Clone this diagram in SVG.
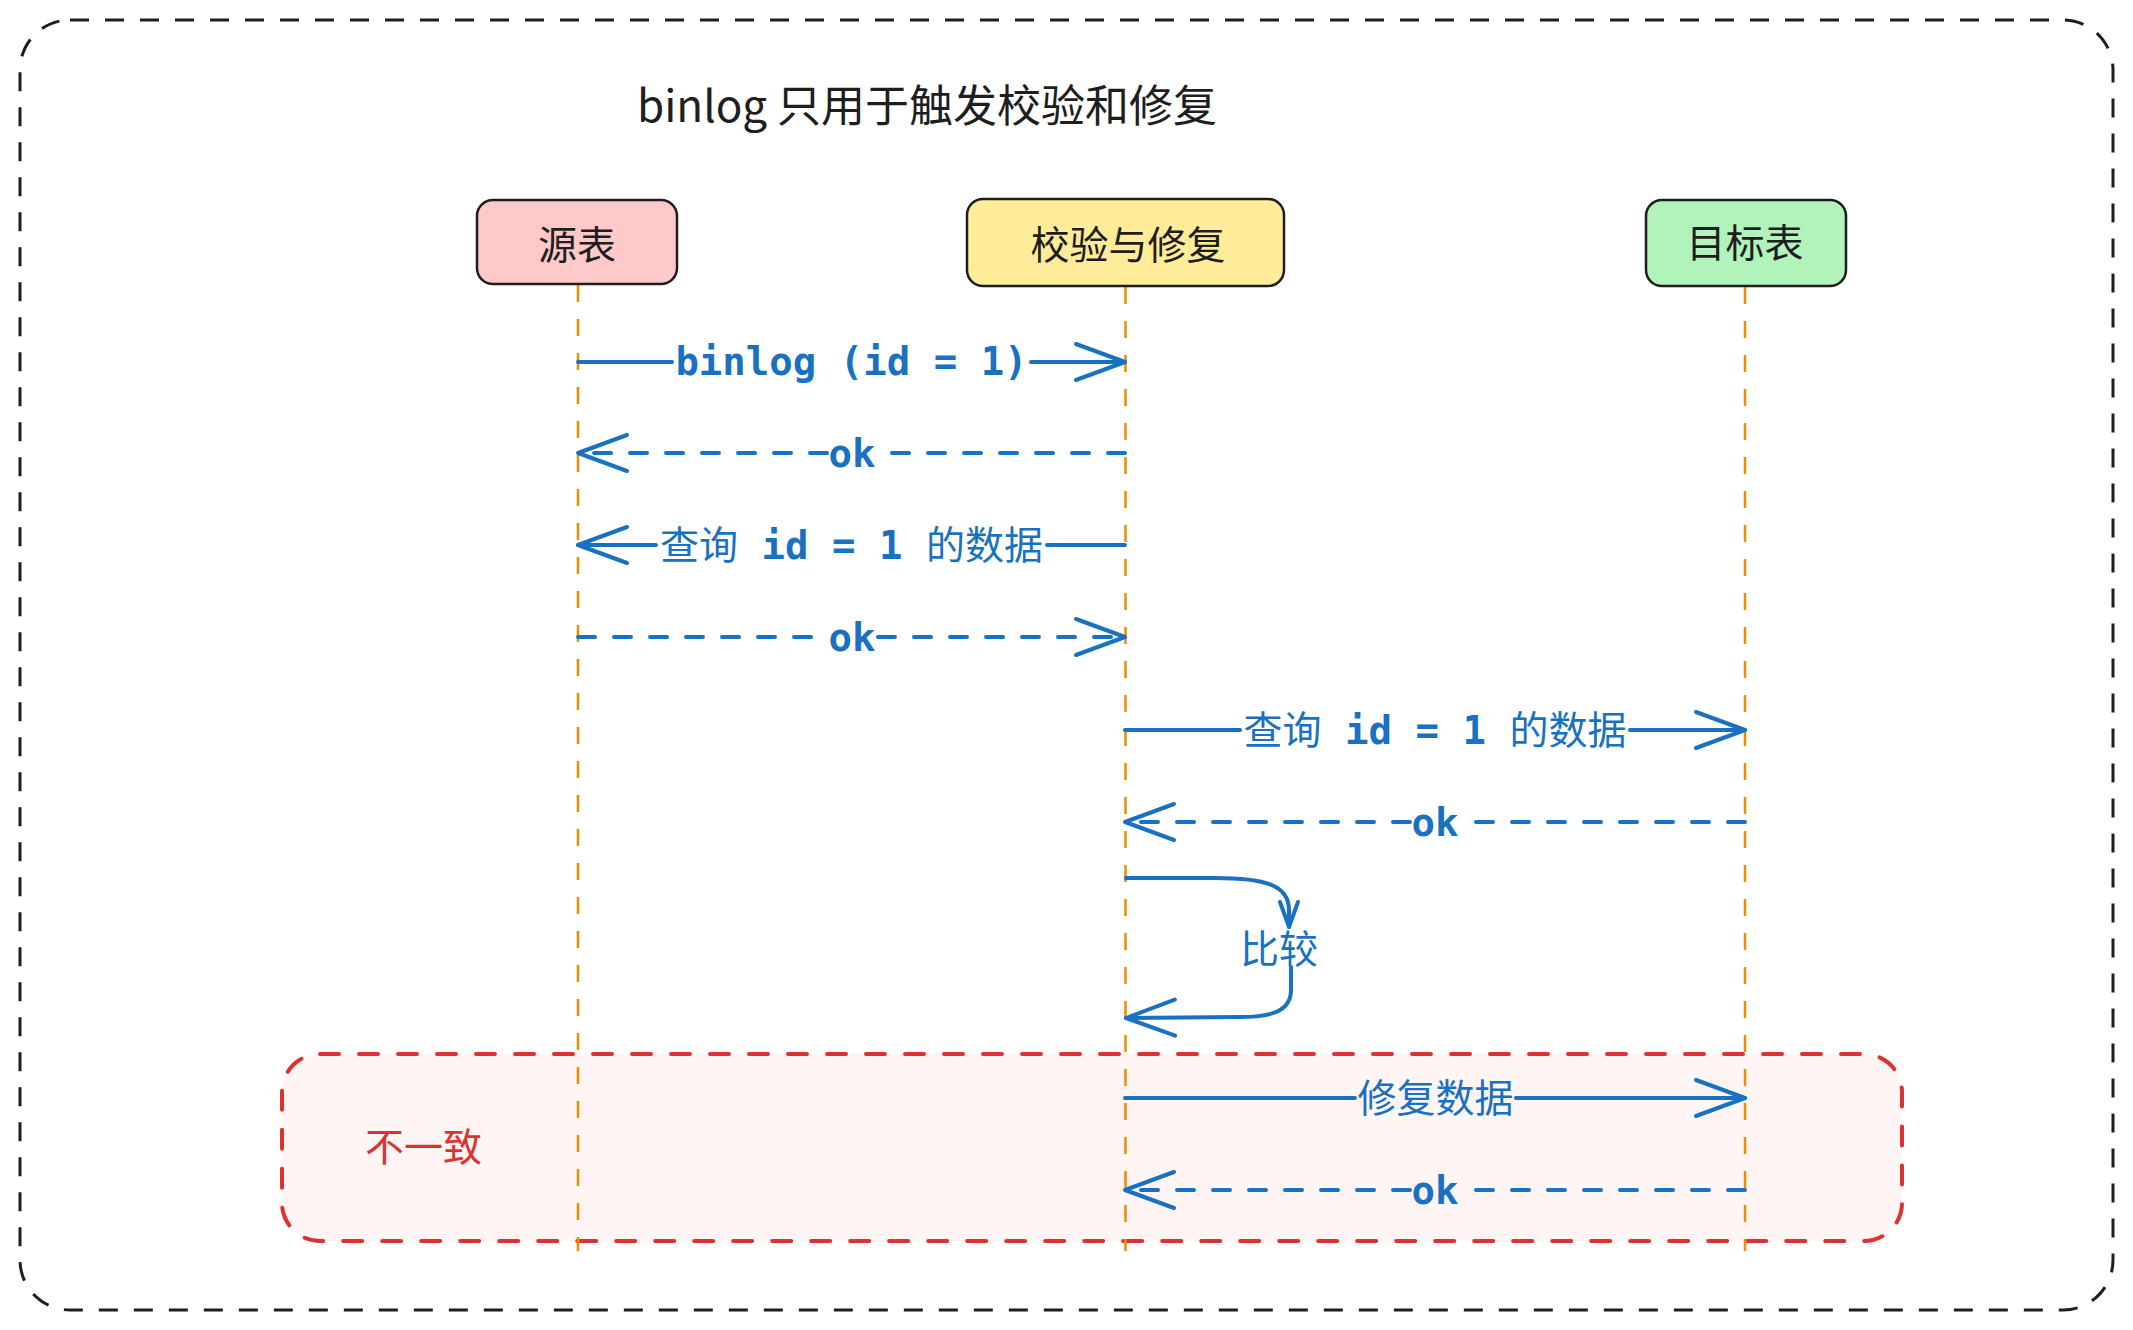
<svg xmlns="http://www.w3.org/2000/svg" width="2133" height="1330" viewBox="0 0 2133 1330">
<style>
.frame{fill:none;stroke:#1e1e1e;stroke-width:3;stroke-dasharray:19 16}
.box{stroke:#1e1e1e;stroke-width:2.5}
.ntxt{font-family:"Noto Sans CJK SC","Noto Sans",sans-serif;font-size:39px;fill:#1e1e1e;text-anchor:middle}
.life{fill:none;stroke:#f08c00;stroke-width:2.5;stroke-dasharray:17 17}
.ar{fill:none;stroke:#1971c2;stroke-width:4;stroke-linecap:round;stroke-linejoin:round}
.dash{stroke-dasharray:17 19}
.lbl{font-family:"DejaVu Sans Mono","Noto Sans CJK SC",monospace;font-size:39px;fill:#1971c2;text-anchor:middle}
.m{font-weight:bold}
.cjk{font-family:"Noto Sans CJK SC","Noto Sans",sans-serif;font-size:39px;fill:#1971c2;text-anchor:middle}
</style>
<defs>
<marker id="ah" viewBox="-54 -24 60 48" markerWidth="60" markerHeight="48" refX="0" refY="0" orient="auto" markerUnits="userSpaceOnUse">
<path d="M-49 -18 L0 0 L-49 18" fill="none" stroke="#1971c2" stroke-width="4" stroke-linecap="round" stroke-linejoin="round"/>
</marker>
<marker id="ahs" viewBox="-30 -14 36 28" markerWidth="36" markerHeight="28" refX="0" refY="0" orient="auto" markerUnits="userSpaceOnUse">
<path d="M-25 -9 L0 0 L-25 9" fill="none" stroke="#1971c2" stroke-width="4" stroke-linecap="round" stroke-linejoin="round"/>
</marker>
</defs>
<rect width="2133" height="1330" fill="#ffffff"/>
<g id="frame">
<rect class="frame" x="20" y="20" width="2093" height="1290" rx="50"/>
<text x="637" y="122" font-family="Noto Sans CJK SC,Noto Sans,sans-serif" font-size="44" fill="#1e1e1e">binlog 只用于触发校验和修复</text>
</g>
<g id="inconsistent">
<rect x="282" y="1054" width="1620" height="187" rx="38" fill="#fff5f5" stroke="#e03131" stroke-width="4" stroke-dasharray="19 20" stroke-linecap="round"/>
<text x="365" y="1161" font-family="Noto Sans CJK SC,Noto Sans,sans-serif" font-size="39" fill="#e03131">不一致</text>
</g>
<g id="lifelines">
<line class="life" x1="578" y1="285" x2="578" y2="1251"/>
<line class="life" x1="1125.5" y1="287" x2="1125.5" y2="1251"/>
<line class="life" x1="1745" y1="287" x2="1745" y2="1251"/>
</g>
<g id="node-source">
<rect class="box" x="477" y="200" width="200" height="84" rx="16" fill="#ffc9c9"/>
<text class="ntxt" x="577" y="259">源表</text>
</g>
<g id="node-verify">
<rect class="box" x="967" y="199" width="317" height="87" rx="16" fill="#ffec99"/>
<text class="ntxt" x="1128" y="259">校验与修复</text>
</g>
<g id="node-target">
<rect class="box" x="1646" y="200" width="200" height="86" rx="16" fill="#b2f2bb"/>
<text class="ntxt" x="1745" y="257">目标表</text>
</g>
<g id="connectors">
<path class="ar" d="M578 362 H672"/>
<path class="ar" d="M1031 362 H1125" marker-end="url(#ah)"/>
<text class="lbl" x="851.5" y="375"><tspan class="m">binlog (id = 1)</tspan></text>

<path class="ar dash" d="M1125 453 H878"/>
<path class="ar dash" d="M827 453 H578" marker-end="url(#ah)"/>
<text class="lbl m" x="852" y="467">ok</text>

<path class="ar" d="M1125 545 H1047"/>
<path class="ar" d="M656 545 H578" marker-end="url(#ah)"/>
<text class="lbl" x="851.5" y="559">查询<tspan class="m"> id = 1 </tspan>的数据</text>

<path class="ar dash" d="M578 637 H827"/>
<path class="ar dash" d="M878 637 H1125" marker-end="url(#ah)"/>
<text class="lbl m" x="852" y="651">ok</text>

<path class="ar" d="M1125 730 H1240"/>
<path class="ar" d="M1630 730 H1745" marker-end="url(#ah)"/>
<text class="lbl" x="1435" y="744">查询<tspan class="m"> id = 1 </tspan>的数据</text>

<path class="ar dash" d="M1745 822 H1460"/>
<path class="ar dash" d="M1410 822 H1125" marker-end="url(#ah)"/>
<text class="lbl m" x="1435" y="836">ok</text>

<path class="ar" d="M1126 878 L1215 878 C1265 878 1289 885 1289 910 L1289 927" marker-end="url(#ahs)"/>
<text class="cjk" x="1279" y="963">比较</text>
<path class="ar" d="M1291 967 L1291 990 C1291 1012 1270 1017 1240 1017 L1126 1018" marker-end="url(#ah)"/>

<path class="ar" d="M1125 1098 H1355"/>
<path class="ar" d="M1516 1098 H1745" marker-end="url(#ah)"/>
<text class="cjk" x="1435.5" y="1112">修复数据</text>

<path class="ar dash" d="M1745 1190 H1460"/>
<path class="ar dash" d="M1410 1190 H1125" marker-end="url(#ah)"/>
<text class="lbl m" x="1435" y="1204">ok</text>
</g>
</svg>
